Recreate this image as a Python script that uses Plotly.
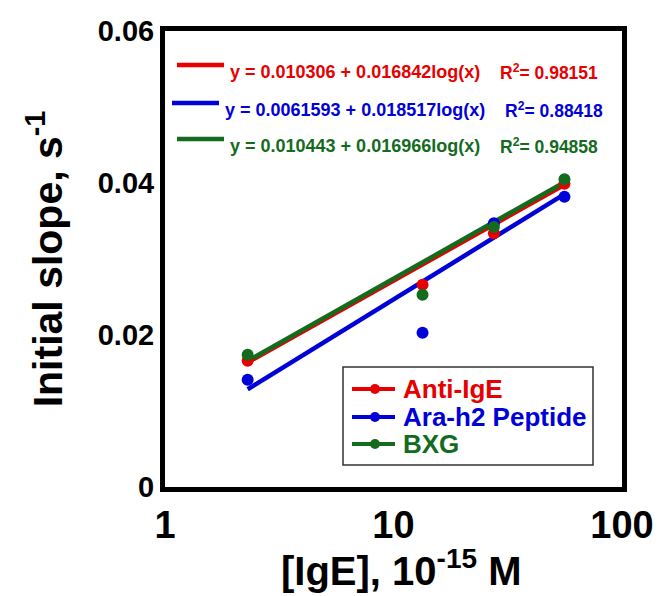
import numpy as np
import plotly.graph_objects as go

# IgE concentration, 10^-15 M
conc = [2.3, 13.4, 27.5, 56]

# Initial slope (s^-1) per capture probe
anti_ige = [0.0166, 0.0266, 0.0334, 0.0399]
ara_h2 = [0.0141, 0.0203, 0.0347, 0.0382]
bxg = [0.0174, 0.0253, 0.0342, 0.0405]

series_names = ["Anti-IgE", "Ara-h2 Peptide", "BXG"]
series_values = [anti_ige, ara_h2, bxg]
colors = ["#e60000", "#0000d8", "#146b1e"]

# Logarithmic fits: y = a + b*log(x)
fit_intercepts = [0.010306, 0.0061593, 0.010443]
fit_slopes = [0.016842, 0.018517, 0.016966]
fit_r2 = [0.98151, 0.88418, 0.94858]

x_tick_values = [1, 10, 100]
x_tick_labels = ["1", "10", "100"]
y_tick_values = [0, 0.02, 0.04, 0.06]
y_tick_labels = ["0", "0.02", "0.04", "0.06"]

FONT = "Liberation Sans, Arial, sans-serif"
W, H = 669, 596
L, R, T, B = 165, 47, 31, 109
PW, PH = W - L - R, H - T - B


def px(x):
    """figure pixel column -> paper x"""
    return (x - L) / PW


def py(y):
    """figure pixel row -> paper y"""
    return (H - B - y) / PH


fig = go.Figure()

# fitted lines
x_fit = np.logspace(np.log10(conc[0]), np.log10(conc[-1]), 40)
for a, b, c in zip(fit_intercepts, fit_slopes, colors):
    fig.add_trace(go.Scatter(
        x=x_fit, y=a + b * np.log10(x_fit), mode="lines",
        line=dict(color=c, width=4.5), showlegend=False, hoverinfo="skip"))

# measured points
for name, vals, c in zip(series_names, series_values, colors):
    fig.add_trace(go.Scatter(
        x=conc, y=vals, mode="markers", name=name,
        marker=dict(color=c, size=12), showlegend=False))

# fit equations with key segments
eq_rows = [
    dict(k0=177, k1=224, ky=65, tx=228, ty=72, rx=498),
    dict(k0=172, k1=219, ky=103, tx=223, ty=110, rx=503),
    dict(k0=177, k1=224, ky=139, tx=228, ty=146, rx=498),
]
for row, a, b, r2, c in zip(eq_rows, fit_intercepts, fit_slopes, fit_r2, colors):
    fig.add_shape(type="line", xref="paper", yref="paper",
                  x0=px(row["k0"]), x1=px(row["k1"]),
                  y0=py(row["ky"]), y1=py(row["ky"]),
                  line=dict(color=c, width=4.5))
    fig.add_annotation(xref="paper", yref="paper", x=px(row["tx"]), y=py(row["ty"]),
                       xanchor="left", yanchor="middle", showarrow=False,
                       text=f"y = {a} + {b}log(x)",
                       font=dict(family=FONT, size=18, color=c, weight="bold"))
    fig.add_annotation(xref="paper", yref="paper", x=px(row["rx"]), y=py(row["ty"]),
                       xanchor="left", yanchor="middle", showarrow=False,
                       text=f"R<sup>2</sup>= {r2}",
                       font=dict(family=FONT, size=17.5, color=c, weight="bold"))

# legend box: line + marker key and coloured label per series
fig.add_shape(type="rect", xref="paper", yref="paper",
              x0=px(343), x1=px(593), y0=py(465), y1=py(367),
              line=dict(color="#333333", width=1.5), fillcolor="white", layer="above")
legend_rows = [389, 417, 444]
for name, c, ry in zip(series_names, colors, legend_rows):
    fig.add_shape(type="line", xref="paper", yref="paper",
                  x0=px(352), x1=px(395), y0=py(ry), y1=py(ry),
                  line=dict(color=c, width=4), layer="above")
    fig.add_shape(type="circle", xref="paper", yref="paper",
                  xsizemode="pixel", ysizemode="pixel",
                  xanchor=px(375), yanchor=py(ry),
                  x0=-5, x1=5, y0=-5, y1=5,
                  line=dict(color=c, width=0), fillcolor=c, layer="above")
    fig.add_annotation(xref="paper", yref="paper", x=px(401), y=py(ry),
                       xanchor="left", yanchor="middle", showarrow=False,
                       text=name,
                       font=dict(family=FONT, size=26, color=c, weight="bold"))

# x-axis title
fig.add_annotation(xref="paper", yref="paper", x=px(401), y=py(568),
                   xanchor="center", yanchor="middle", showarrow=False,
                   text="[IgE], 10<sup>-15</sup> M",
                   font=dict(family=FONT, size=40, color="black", weight="bold"))

fig.update_layout(
    width=W, height=H,
    margin=dict(l=L, r=R, t=T, b=B),
    paper_bgcolor="white", plot_bgcolor="white",
    font=dict(family=FONT, color="black", weight="bold"),
    showlegend=False,
    xaxis=dict(type="log", range=[0, 2], tickvals=x_tick_values,
               ticktext=x_tick_labels, ticks="", showgrid=False,
               zeroline=False, showline=True, linewidth=5,
               linecolor="black", mirror=True,
               tickfont=dict(family=FONT, size=38, weight="bold")),
    yaxis=dict(range=[0, 0.06], tickvals=y_tick_values,
               ticktext=y_tick_labels, ticks="", showgrid=False,
               zeroline=False, showline=True, linewidth=5,
               linecolor="black", mirror=True,
               tickfont=dict(family=FONT, size=29, weight="bold"),
               title=dict(text="Initial slope, s<sup>-1</sup>", standoff=24,
                          font=dict(family=FONT, size=41, weight="bold"))),
)

fig.write_html("out.html")
